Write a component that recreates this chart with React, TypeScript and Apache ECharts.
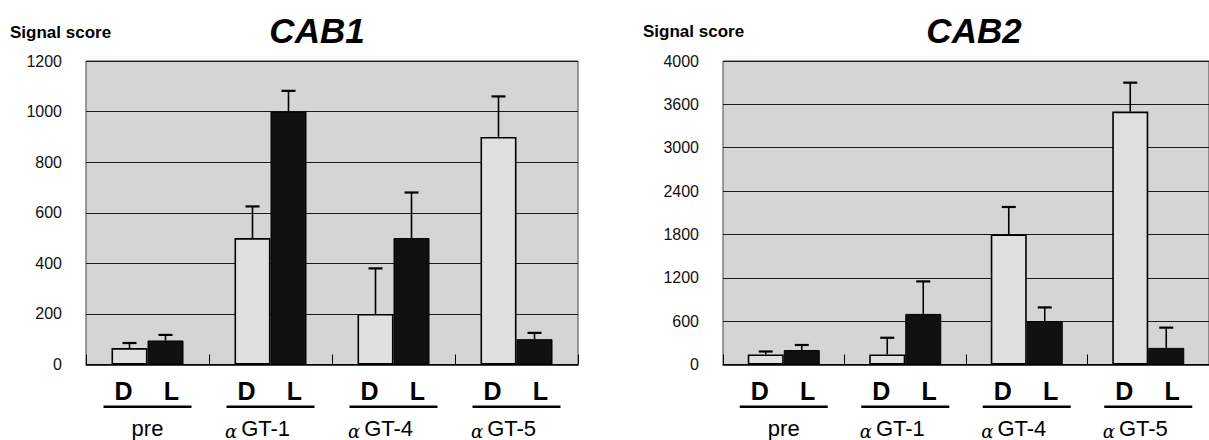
import React, { useEffect, useRef } from "react";
import * as echarts from "echarts";

const groups = ["pre", "α GT-1", "α GT-4", "α GT-5"];
const cab1Dark = [65, 500, 200, 900];
const cab1DarkSd = [20, 125, 180, 160];
const cab1Light = [95, 1000, 500, 100];
const cab1LightSd = [22, 82, 180, 25];
const cab2Dark = [140, 140, 1800, 3500];
const cab2DarkSd = [40, 230, 380, 400];
const cab2Light = [200, 700, 600, 230];
const cab2LightSd = [70, 450, 190, 280];
const cab1Ticks = ["0", "200", "400", "600", "800", "1000", "1200"];
const cab2Ticks = ["0", "600", "1200", "1800", "2400", "3000", "3600", "4000"];

const FONT = "'Liberation Sans', Arial, Helvetica, sans-serif";
const BAR_W = 36;

function errRender(offset: number) {
  return (params: any, api: any) => {
    const base = api.coord([api.value(0), api.value(1)]);
    const top = api.coord([api.value(0), api.value(2)]);
    const x = base[0] + offset;
    return {
      type: "group",
      children: [
        { type: "line", shape: { x1: x, y1: base[1], x2: x, y2: top[1] }, style: { stroke: "#000", lineWidth: 1.6 } },
        { type: "line", shape: { x1: x - 7, y1: top[1], x2: x + 7, y2: top[1] }, style: { stroke: "#000", lineWidth: 2.2 } },
      ],
    };
  };
}

function groupLabel(v: string) {
  if (v.startsWith("α")) return `{a|α}{m|${v.slice(2)}}`;
  return `{n|${v}}`;
}

function buildPanel(
  gi: number,
  dark: number[],
  darkSd: number[],
  light: number[],
  lightSd: number[],
  max: number,
  interval: number,
  ticks: string[]
) {
  const xMain = {
    type: "category",
    gridIndex: gi,
    data: groups,
    position: "bottom",
    axisLine: { show: true, lineStyle: { color: "#000", width: 1.5 } },
    axisTick: { show: true, inside: true, length: 10, lineStyle: { color: "#000", width: 1 } },
    axisLabel: {
      margin: 41,
      formatter: () => "{u|}",
      rich: { u: { width: 88, height: 2.5, backgroundColor: "#000" } },
    },
    splitLine: { show: false },
  };
  const xNames = {
    type: "category",
    gridIndex: gi,
    data: groups,
    position: "bottom",
    axisLine: { show: false },
    axisTick: { show: false },
    axisLabel: {
      margin: 53,
      formatter: groupLabel,
      rich: {
        a: { fontFamily: "'DejaVu Serif', serif", fontStyle: "italic", fontSize: 18, color: "#000", padding: [5, 4, 0, 0], lineHeight: 22 },
        n: { fontFamily: FONT, fontSize: 22, color: "#000", lineHeight: 22 },
        m: { fontFamily: FONT, fontSize: 22, color: "#000", lineHeight: 22, padding: [0, 26, 0, 0] },
      },
    },
  };
  const y = {
    type: "value",
    gridIndex: gi,
    min: 0,
    max,
    interval,
    axisLine: { show: false },
    axisTick: { show: false },
    axisLabel: {
      margin: 24,
      fontFamily: FONT,
      fontSize: 16,
      color: "#111",
      formatter: (v: number) => ticks[Math.round(v / interval)] ?? "",
    },
    splitLine: { show: true, lineStyle: { color: "#1a1a1a", width: 1 } },
  };
  const xi = gi * 2;
  const barLabel = (txt: string, dx: number) => ({
    show: true,
    position: "bottom",
    distance: 14,
    offset: [dx, 0],
    formatter: txt,
    fontFamily: FONT,
    fontWeight: "bold",
    fontSize: 25,
    color: "#000",
  });
  const series = [
    {
      type: "bar",
      xAxisIndex: xi,
      yAxisIndex: gi,
      data: dark,
      barWidth: BAR_W,
      barGap: "0%",
      itemStyle: { color: "#e0e0e0", borderColor: "#000", borderWidth: 1.6 },
      label: barLabel("D", -6),
      z: 2,
    },
    {
      type: "bar",
      xAxisIndex: xi,
      yAxisIndex: gi,
      data: light,
      barWidth: BAR_W,
      barGap: "0%",
      itemStyle: { color: "#111", borderColor: "#000", borderWidth: 1 },
      label: barLabel("L", 6),
      z: 2,
    },
    {
      type: "custom",
      xAxisIndex: xi,
      yAxisIndex: gi,
      data: dark.map((v, i) => [i, v, v + darkSd[i]]),
      encode: { x: 0, y: [1, 2] },
      renderItem: errRender(-BAR_W / 2),
      z: 5,
    },
    {
      type: "custom",
      xAxisIndex: xi,
      yAxisIndex: gi,
      data: light.map((v, i) => [i, v, v + lightSd[i]]),
      encode: { x: 0, y: [1, 2] },
      renderItem: errRender(BAR_W / 2),
      z: 5,
    },
  ];
  return { xAxes: [xMain, xNames], y, series };
}

export default function App() {
  const ref = useRef<HTMLDivElement>(null);
  useEffect(() => {
    document.body.style.margin = "0";
    const chart = echarts.init(ref.current!, undefined, { renderer: "svg" });
    const p1 = buildPanel(0, cab1Dark, cab1DarkSd, cab1Light, cab1LightSd, 1200, 200, cab1Ticks);
    const p2 = buildPanel(1, cab2Dark, cab2DarkSd, cab2Light, cab2LightSd, 4200, 600, cab2Ticks);
    const gridStyle = {
      show: true,
      backgroundColor: "#d5d5d5",
      borderColor: "#444",
      borderWidth: 1,
    };
    chart.setOption({
      animation: false,
      textStyle: { fontFamily: FONT },
      grid: [
        { ...gridStyle, left: 86, top: 61, width: 492, height: 305 },
        { ...gridStyle, left: 723, top: 61, width: 492, height: 304 },
      ],
      xAxis: [...p1.xAxes, ...p2.xAxes],
      yAxis: [p1.y, p2.y],
      series: [...p1.series, ...p2.series],
      graphic: [
        {
          type: "text",
          left: 10,
          top: 24,
          style: { text: "Signal score", fontFamily: FONT, fontWeight: "bold", fontSize: 17, fill: "#000" },
        },
        {
          type: "text",
          left: 643,
          top: 23,
          style: { text: "Signal score", fontFamily: FONT, fontWeight: "bold", fontSize: 17, fill: "#000" },
        },
        {
          type: "text",
          x: 317,
          y: 30,
          style: {
            text: "CAB1",
            fontFamily: FONT,
            fontWeight: "bold",
            fontStyle: "italic",
            fontSize: 35,
            fill: "#000",
            align: "center",
            verticalAlign: "middle",
          },
        },
        {
          type: "text",
          x: 974,
          y: 30,
          style: {
            text: "CAB2",
            fontFamily: FONT,
            fontWeight: "bold",
            fontStyle: "italic",
            fontSize: 35,
            fill: "#000",
            align: "center",
            verticalAlign: "middle",
          },
        },
      ],
    });
    return () => chart.dispose();
  }, []);
  return (
    <div
      ref={ref}
      style={{ position: "absolute", left: 0, top: 0, width: 1209, height: 440, background: "#fff" }}
    />
  );
}
